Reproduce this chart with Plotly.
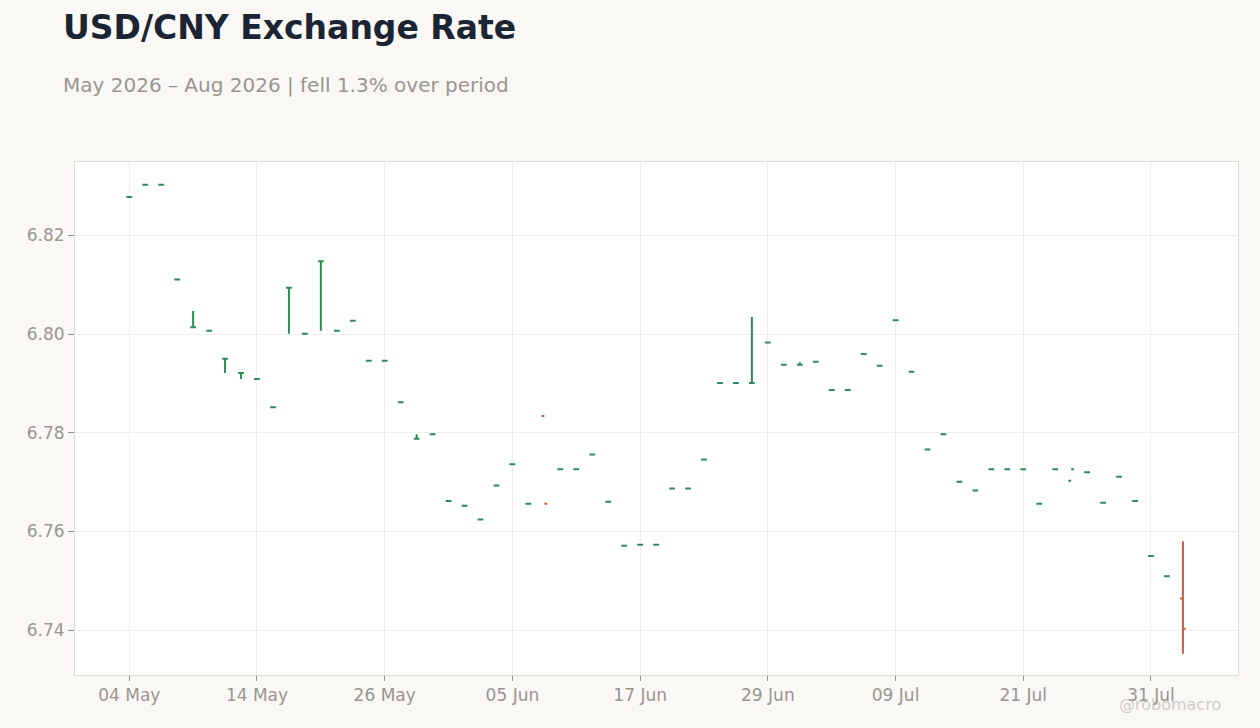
import pandas as pd
import plotly.graph_objects as go

# Dados (dias úteis de 04 mai a 04 ago 2026)
dates = pd.bdate_range('2026-05-04', '2026-08-04').strftime('%Y-%m-%d').tolist()

opens = [6.8278, 6.8303, 6.8303, 6.8111, 6.8014, 6.8007, 6.7950, 6.7921, 6.7909, 6.7852,
         6.8094, 6.8001, 6.8148, 6.8007, 6.8027, 6.7946, 6.7946, 6.7862, 6.7788, 6.7797,
         6.7662, 6.7652, 6.7624, 6.7693, 6.7736, 6.7656, 6.7834, 6.7726, 6.7726, 6.7756,
         6.7660, 6.7571, 6.7573, 6.7573, 6.7687, 6.7687, 6.7746, 6.7901, 6.7901, 6.7901,
         6.7983, 6.7938, 6.7938, 6.7944, 6.7887, 6.7887, 6.7960, 6.7936, 6.8028, 6.7924,
         6.7766, 6.7797, 6.7701, 6.7683, 6.7726, 6.7726, 6.7726, 6.7656, 6.7726, 6.7703,
         6.7720, 6.7658, 6.7711, 6.7662, 6.7550, 6.7509, 6.7464]
highs = [6.8278, 6.8303, 6.8303, 6.8111, 6.8047, 6.8007, 6.7950, 6.7921, 6.7909, 6.7852,
         6.8094, 6.8001, 6.8148, 6.8007, 6.8027, 6.7946, 6.7946, 6.7862, 6.7797, 6.7797,
         6.7662, 6.7652, 6.7624, 6.7693, 6.7736, 6.7656, 6.7656, 6.7726, 6.7726, 6.7756,
         6.7660, 6.7571, 6.7573, 6.7573, 6.7687, 6.7687, 6.7746, 6.7901, 6.7901, 6.8035,
         6.7983, 6.7938, 6.7943, 6.7944, 6.7887, 6.7887, 6.7960, 6.7936, 6.8028, 6.7924,
         6.7766, 6.7797, 6.7701, 6.7683, 6.7726, 6.7726, 6.7726, 6.7656, 6.7726, 6.7726,
         6.7720, 6.7658, 6.7711, 6.7662, 6.7550, 6.7509, 6.7580]
lows = [6.8278, 6.8303, 6.8303, 6.8111, 6.8014, 6.8007, 6.7921, 6.7909, 6.7909, 6.7852,
        6.8001, 6.8001, 6.8007, 6.8007, 6.8027, 6.7946, 6.7946, 6.7862, 6.7788, 6.7797,
        6.7662, 6.7652, 6.7624, 6.7693, 6.7736, 6.7656, 6.7656, 6.7726, 6.7726, 6.7756,
        6.7660, 6.7571, 6.7573, 6.7573, 6.7687, 6.7687, 6.7746, 6.7901, 6.7901, 6.7901,
        6.7983, 6.7938, 6.7938, 6.7944, 6.7887, 6.7887, 6.7960, 6.7936, 6.8028, 6.7924,
        6.7766, 6.7797, 6.7701, 6.7683, 6.7726, 6.7726, 6.7726, 6.7656, 6.7726, 6.7726,
        6.7720, 6.7658, 6.7711, 6.7662, 6.7550, 6.7509, 6.7352]
closes = [6.8278, 6.8303, 6.8303, 6.8111, 6.8014, 6.8007, 6.7950, 6.7921, 6.7909, 6.7852,
          6.8094, 6.8001, 6.8148, 6.8007, 6.8027, 6.7946, 6.7946, 6.7862, 6.7788, 6.7797,
          6.7662, 6.7652, 6.7624, 6.7693, 6.7736, 6.7656, 6.7656, 6.7726, 6.7726, 6.7756,
          6.7660, 6.7571, 6.7573, 6.7573, 6.7687, 6.7687, 6.7746, 6.7901, 6.7901, 6.7901,
          6.7983, 6.7938, 6.7938, 6.7944, 6.7887, 6.7887, 6.7960, 6.7936, 6.8028, 6.7924,
          6.7766, 6.7797, 6.7701, 6.7683, 6.7726, 6.7726, 6.7726, 6.7656, 6.7726, 6.7726,
          6.7720, 6.7658, 6.7711, 6.7662, 6.7550, 6.7509, 6.7403]

tick_dates = ['2026-05-04', '2026-05-14', '2026-05-26', '2026-06-05', '2026-06-17',
              '2026-06-29', '2026-07-09', '2026-07-21', '2026-07-31']
tick_text = ['04 May', '14 May', '26 May', '05 Jun', '17 Jun',
             '29 Jun', '09 Jul', '21 Jul', '31 Jul']

VERDE = '#2e8b57'
LARANJA = '#c95f3f'
FONTE = 'DejaVu Sans'

df = pd.DataFrame({'x': dates, 'o': opens, 'h': highs, 'l': lows, 'c': closes})
sobe = df[df.c >= df.o]
desce = df[df.c < df.o]

fig = go.Figure()
for parte, cor in [(sobe, VERDE), (desce, LARANJA)]:
    fig.add_trace(go.Ohlc(x=parte.x, open=parte.o, high=parte.h, low=parte.l, close=parte.c,
                          tickwidth=0.18,
                          increasing=dict(line=dict(color=cor, width=2)),
                          decreasing=dict(line=dict(color=cor, width=2)),
                          showlegend=False))

fig.update_xaxes(type='category', categoryorder='array', categoryarray=dates,
                 range=[-3.4, 69.45], rangeslider=dict(visible=False),
                 tickvals=tick_dates, ticktext=tick_text,
                 showgrid=True, gridcolor='#eeeeee', gridwidth=1,
                 showline=True, mirror=True, linecolor='#e0dbd2', linewidth=1,
                 ticks='outside', ticklen=5, tickcolor='#8f8f8f',
                 tickfont=dict(family=FONTE, size=17, color='#9a958f'))
fig.update_yaxes(range=[6.7309, 6.8349], dtick=0.02, tick0=6.74, tickformat='.2f',
                 showgrid=True, gridcolor='#eeeeee', gridwidth=1, zeroline=False,
                 showline=True, mirror=True, linecolor='#e0dbd2', linewidth=1,
                 ticks='outside', ticklen=6, tickcolor='#8f8f8f',
                 tickfont=dict(family=FONTE, size=17, color='#9a958f'))

fig.add_annotation(xref='paper', yref='paper', x=(61 - 75) / 1163, y=(675 - 28) / 513,
                   xanchor='left', yanchor='middle', showarrow=False,
                   text='<b>USD/CNY Exchange Rate</b>',
                   font=dict(family=FONTE, size=33, color='#1b2433'))
fig.add_annotation(xref='paper', yref='paper', x=(61 - 75) / 1163, y=(675 - 85.5) / 513,
                   xanchor='left', yanchor='middle', showarrow=False,
                   text='May 2026 – Aug 2026 | fell 1.3% over period',
                   font=dict(family=FONTE, size=20, color='#9a958f'))
fig.add_annotation(xref='paper', yref='paper', x=(1223 - 75) / 1163, y=(675 - 704) / 513,
                   xanchor='right', yanchor='middle', showarrow=False,
                   text='@robomacro',
                   font=dict(family=FONTE, size=16, color='rgba(170,165,158,0.55)'))

fig.update_layout(width=1260, height=728, autosize=False,
                  margin=dict(l=75, r=22, t=162, b=53),
                  paper_bgcolor='#f9f8f5', plot_bgcolor='#ffffff',
                  font=dict(family=FONTE), hovermode='x')
fig.write_html('out.html', config={'displayModeBar': False},
               post_script="document.body.style.margin='0';")
